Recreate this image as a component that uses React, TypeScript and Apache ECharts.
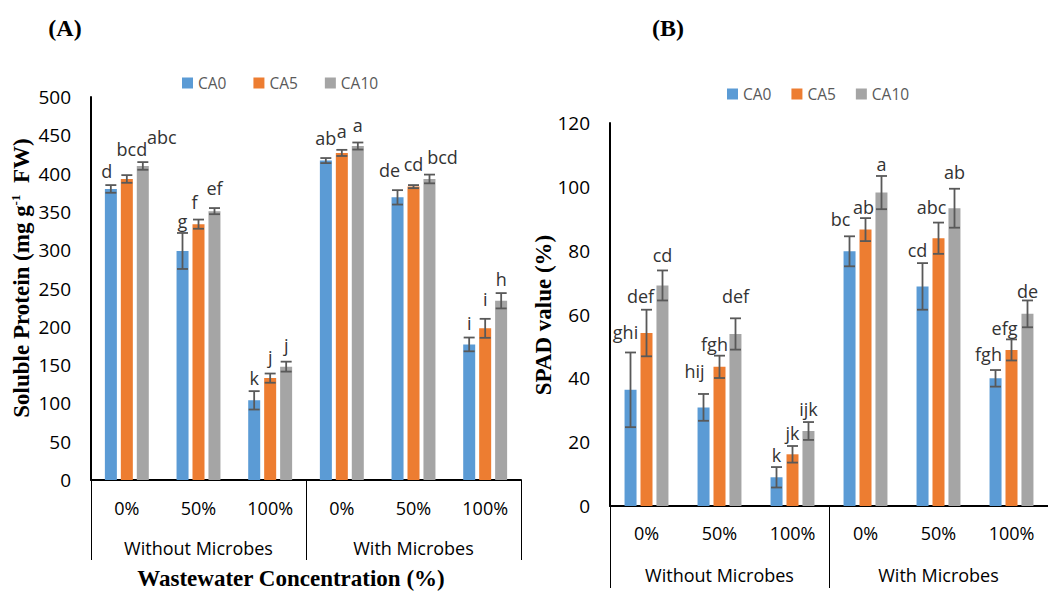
import React, { useEffect, useRef } from "react";
import * as echarts from "echarts";

const categories = ["0%", "50%", "100%", "0%", "50%", "100%"];
const groups = ["Without Microbes", "With Microbes"];
const seriesNames = ["CA0", "CA5", "CA10"];

// Panel A: soluble protein
const proteinCA0 = [380, 299, 104, 417, 369, 177];
const proteinCA5 = [393, 334, 133, 427, 383, 198];
const proteinCA10 = [410, 351, 148, 436, 393, 234];
const proteinErrCA0 = [5, 23.5, 12, 3.3, 9.4, 9];
const proteinErrCA5 = [5, 6, 6, 4, 2, 12.4];
const proteinErrCA10 = [5, 4, 6.5, 4.6, 5.7, 10];
const proteinLetCA0 = ["d", "g", "k", "ab", "de", "i"];
const proteinLetCA5 = ["bcd", "f", "j", "a", "cd", "i"];
const proteinLetCA10 = ["abc", "ef", "j", "a", "bcd", "h"];

// Panel B: SPAD value
const spadCA0 = [36.4, 30.9, 9.0, 79.8, 68.8, 40.0];
const spadCA5 = [54.2, 43.6, 16.2, 86.6, 83.9, 48.9];
const spadCA10 = [69.1, 53.9, 23.5, 98.2, 93.3, 60.2];
const spadErrCA0 = [11.7, 4.2, 3.2, 4.7, 7.3, 2.6];
const spadErrCA5 = [7.3, 3.5, 2.6, 3.6, 4.9, 3.3];
const spadErrCA10 = [4.7, 4.9, 2.8, 5.2, 6.1, 4.2];
const spadLetCA0 = ["ghi", "hij", "k", "bc", "cd", "fgh"];
const spadLetCA5 = ["def", "fgh", "jk", "ab", "abc", "efg"];
const spadLetCA10 = ["cd", "def", "ijk", "a", "ab", "de"];

// label placement offsets (style), px relative to bar centre / error-bar top
const aDx = [[-4, 0, 0, 0, -8, 0], [5, -4, 0, 0, 0, 0], [19, 0, 0, 0, 13, 0]];
const aDy = [[-14, -12, -13, -20, -20, -15], [-26, -18, -17, -19, -21, -20], [-25, -20, -17, -18, -18, -14]];
const bDx = [[-5, -9, 0, -9, -5, -7], [-6, -5, 0, -2, -7, -7], [0, 0, 0, 0, 0, 0]];
const bDy = [[-20, -23, -12, -17, -13, -16], [-14, -12, -13, -11, -16, -11], [-15, -22, -13, -12, -17, -9]];

const colors = ["#5B9BD5", "#ED7D31", "#A5A5A5"];
const SANS = "'Open Sans', 'Noto Sans', sans-serif";
const SERIF = "'Liberation Serif', 'Times New Roman', serif";
const BAR_W = 12;
const STEP = 16;

function errSeries(values: number[], errs: number[], letters: string[], dx: number[], dy: number[], k: number, xi: number, yi: number) {
  return {
    type: "custom",
    name: "err" + xi + "-" + k,
    xAxisIndex: xi,
    yAxisIndex: yi,
    z: 5,
    silent: true,
    clip: false,
    data: values.map((v, i) => [i, v, errs[i]]),
    renderItem: (params: any, api: any) => {
      const i = api.value(0);
      const v = api.value(1);
      const e = api.value(2);
      const top = api.coord([i, v + e]);
      const bot = api.coord([i, v - e]);
      const x = top[0] + (k - 1) * STEP;
      const h = 5.5;
      const ls = { stroke: "#595959", lineWidth: 1.8 };
      return {
        type: "group",
        children: [
          { type: "line", shape: { x1: x, y1: top[1], x2: x, y2: bot[1] }, style: ls },
          { type: "line", shape: { x1: x - h, y1: top[1], x2: x + h, y2: top[1] }, style: ls },
          { type: "line", shape: { x1: x - h, y1: bot[1], x2: x + h, y2: bot[1] }, style: ls },
          {
            type: "text",
            x: x + dx[params.dataIndex],
            y: top[1] + dy[params.dataIndex],
            style: {
              text: letters[params.dataIndex],
              fontSize: 18,
              fontFamily: SANS,
              fill: "#333333",
              align: "center",
              verticalAlign: "middle",
            },
          },
        ],
      };
    },
  };
}

function barSeries(values: number[], k: number, xi: number, yi: number) {
  return {
    type: "bar",
    name: seriesNames[k],
    xAxisIndex: xi,
    yAxisIndex: yi,
    data: values,
    barWidth: BAR_W,
    barGap: "33%",
    itemStyle: { color: colors[k] },
  };
}

function xAxesFor(gridIndex: number, catMargin: number, groupMargin: number, tickLen: number) {
  return [
    {
      type: "category",
      gridIndex,
      position: "bottom",
      data: categories,
      axisLine: { show: true, onZero: false, lineStyle: { color: "#000", width: 2 } },
      axisTick: { show: false },
      axisLabel: { interval: 0, margin: catMargin, fontSize: 18, fontFamily: SANS, color: "#000" },
    },
    {
      type: "category",
      gridIndex,
      position: "bottom",
      data: groups,
      axisLine: { show: false, onZero: false },
      axisTick: { show: true, length: tickLen, lineStyle: { color: "#000", width: 1 } },
      axisLabel: { interval: 0, margin: groupMargin, fontSize: 18, fontFamily: SANS, color: "#000" },
    },
  ];
}

function yAxisFor(gridIndex: number, max: number, interval: number) {
  return {
    type: "value",
    gridIndex,
    min: 0,
    max,
    interval,
    splitLine: { show: false },
    axisLine: { show: true, lineStyle: { color: "#000", width: 2 } },
    axisTick: { show: false },
    axisLabel: { margin: 20, fontSize: 19, fontFamily: SANS, color: "#000" },
  };
}

export default function App() {
  const ref = useRef<HTMLDivElement>(null);
  useEffect(() => {
    document.body.style.margin = "0";
    const chart = echarts.init(ref.current!, null, { renderer: "svg" });
    const legendCommon = {
      data: seriesNames,
      icon: "rect",
      itemWidth: 11,
      itemHeight: 11,
      padding: 0,
      textStyle: { fontSize: 15.5, fontFamily: SANS, color: "#595959" },
      selectedMode: false,
    };
    chart.setOption({
      animation: false,
      backgroundColor: "#fff",
      legend: [
        { ...legendCommon, left: 182, top: 75, itemGap: 27 },
        { ...legendCommon, left: 727, top: 86, itemGap: 20 },
      ],
      grid: [
        { left: 91, top: 97, width: 430, height: 383 },
        { left: 610, top: 123, width: 444, height: 383 },
      ],
      xAxis: [...xAxesFor(0, 19, 59, 80), ...xAxesFor(1, 18, 60, 82)],
      yAxis: [yAxisFor(0, 500, 50), yAxisFor(1, 120, 20)],
      series: [
        barSeries(proteinCA0, 0, 0, 0),
        barSeries(proteinCA5, 1, 0, 0),
        barSeries(proteinCA10, 2, 0, 0),
        barSeries(spadCA0, 0, 2, 1),
        barSeries(spadCA5, 1, 2, 1),
        barSeries(spadCA10, 2, 2, 1),
        errSeries(proteinCA0, proteinErrCA0, proteinLetCA0, aDx[0], aDy[0], 0, 0, 0),
        errSeries(proteinCA5, proteinErrCA5, proteinLetCA5, aDx[1], aDy[1], 1, 0, 0),
        errSeries(proteinCA10, proteinErrCA10, proteinLetCA10, aDx[2], aDy[2], 2, 0, 0),
        errSeries(spadCA0, spadErrCA0, spadLetCA0, bDx[0], bDy[0], 0, 2, 1),
        errSeries(spadCA5, spadErrCA5, spadLetCA5, bDx[1], bDy[1], 1, 2, 1),
        errSeries(spadCA10, spadErrCA10, spadLetCA10, bDx[2], bDy[2], 2, 2, 1),
      ],
      graphic: [
        {
          type: "text",
          x: 65,
          y: 28,
          style: { text: "(A)", font: `bold 24px ${SERIF}`, fill: "#000", align: "center", verticalAlign: "middle" },
        },
        {
          type: "text",
          x: 668,
          y: 28,
          style: { text: "(B)", font: `bold 24px ${SERIF}`, fill: "#000", align: "center", verticalAlign: "middle" },
        },
        {
          type: "text",
          x: 21,
          y: 278,
          rotation: Math.PI / 2,
          style: {
            text: "Soluble Protein (mg g{sup|-1}  FW)",
            fontSize: 23,
            fontWeight: "bold",
            fontFamily: SERIF,
            fill: "#000",
            align: "center",
            verticalAlign: "middle",
            rich: {
              sup: { fontSize: 13, fontWeight: "bold", fontFamily: SERIF, fill: "#000", padding: [0, 0, 12, 0] },
            },
          },
        },
        {
          type: "text",
          x: 543,
          y: 315,
          rotation: Math.PI / 2,
          style: {
            text: "SPAD value (%)",
            fontSize: 23,
            fontWeight: "bold",
            fontFamily: SERIF,
            fill: "#000",
            align: "center",
            verticalAlign: "middle",
          },
        },
        {
          type: "text",
          x: 291,
          y: 578,
          style: {
            text: "Wastewater Concentration (%)",
            fontSize: 23,
            fontWeight: "bold",
            fontFamily: SERIF,
            fill: "#000",
            align: "center",
            verticalAlign: "middle",
          },
        },
      ],
    });
    return () => chart.dispose();
  }, []);
  return (
    <div
      ref={ref}
      style={{ position: "absolute", left: 0, top: 0, width: 1048, height: 593, overflow: "hidden" }}
    />
  );
}
